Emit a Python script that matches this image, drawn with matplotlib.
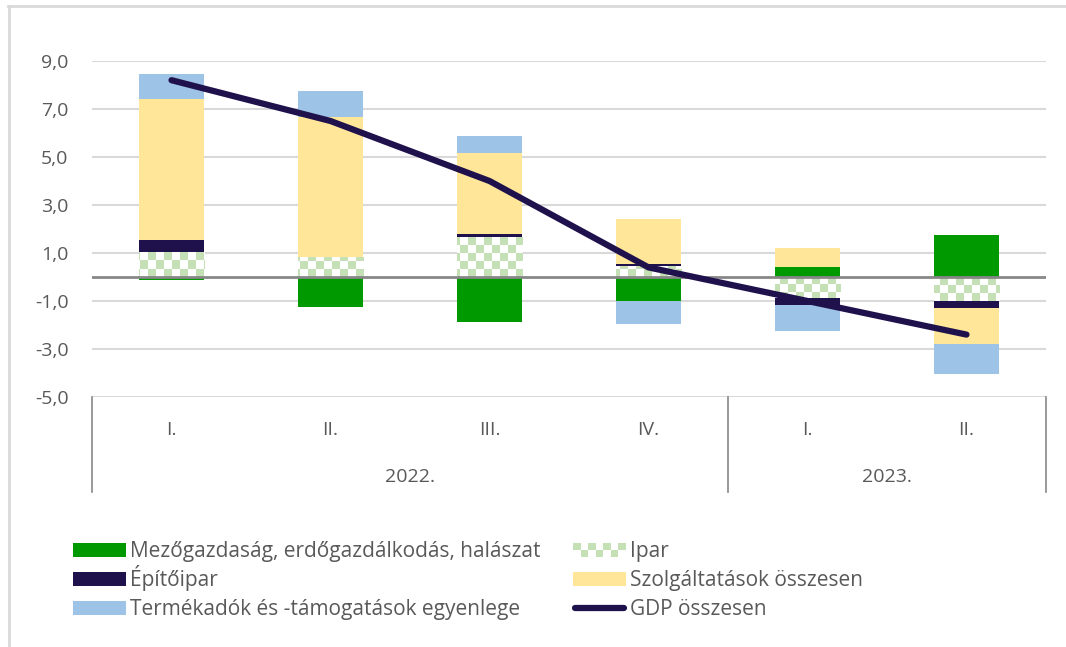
import numpy as np
import matplotlib
matplotlib.use("Agg")
import matplotlib.pyplot as plt
from matplotlib.patches import Rectangle
from matplotlib.lines import Line2D
from matplotlib.colors import ListedColormap
import matplotlib.transforms as mtransforms

# ---- data ----
quarters = ["I.", "II.", "III.", "IV.", "I.", "II."]
years = ["2022.", "2023."]
year_groups = [4, 2]
agri = [-0.12, -1.26, -1.86, -0.99, 0.43, 1.74]
ipar = [1.05, 0.85, 1.65, 0.45, -0.89, -0.99]
epito = [0.49, 0.0, 0.13, 0.09, -0.28, -0.29]
szolg = [5.86, 5.83, 3.40, 1.89, 0.79, -1.51]
termek = [1.06, 1.08, 0.70, -0.96, -1.08, -1.26]
gdp = [8.2, 6.5, 4.0, 0.4, -1.0, -2.4]
yticks = [-5, -3, -1, 1, 3, 5, 7, 9]

labels = ["Mezőgazdaság, erdőgazdálkodás, halászat", "Ipar", "Építőipar",
          "Szolgáltatások összesen", "Termékadók és -támogatások egyenlege",
          "GDP összesen"]

C_GREEN = "#009900"
C_IPAR = "#C5E0B4"
C_EPITO = "#1F124C"
C_SZOLG = "#FFE699"
C_TERM = "#9DC3E6"
C_GDP = "#1F124C"
TXT = "#595959"

plt.rcParams["font.family"] = ["Open Sans", "DejaVu Sans"]

W, H = 1066, 647
fig = plt.figure(figsize=(W / 100, H / 100), dpi=100)
ax = fig.add_axes([92 / W, 1 - 397 / H, (1046 - 92) / W, 336 / H])

x = np.arange(len(quarters))
w = 0.415

series = [(agri, C_GREEN), (ipar, C_IPAR), (epito, C_EPITO), (szolg, C_SZOLG), (termek, C_TERM)]
pos_base = np.zeros(len(x))
neg_base = np.zeros(len(x))
containers = []
for vals, col in series:
    vals = np.array(vals, dtype=float)
    base = np.where(vals >= 0, pos_base, neg_base)
    bc = ax.bar(x, vals, w, bottom=base, color=col, zorder=3, linewidth=0)
    containers.append(bc)
    pos_base = pos_base + np.where(vals >= 0, vals, 0)
    neg_base = neg_base + np.where(vals < 0, vals, 0)

ax.set_xlim(-0.5, len(x) - 0.5)
ax.set_ylim(-5, 9)

# checker pattern for Ipar bars
ax_w_px = (1046 - 92)
ax_h_px = 336
cell = 8
nx = ax_w_px // cell + 1
ny = ax_h_px // cell + 1
chk = (np.add.outer(np.arange(ny), np.arange(nx)) % 2).astype(float)
cmap = ListedColormap(["white", C_IPAR])
for p in containers[1].patches:
    im = ax.imshow(chk, cmap=cmap, extent=(0, nx * cell / ax_w_px, 1 - ny * cell / ax_h_px, 1),
                   transform=ax.transAxes, aspect="auto", interpolation="nearest",
                   zorder=3.5, origin="upper")
    im.set_clip_path(p)
ax.set_xlim(-0.5, len(x) - 0.5)
ax.set_ylim(-5, 9)

# GDP line
ax.plot(x, gdp, color=C_GDP, lw=4.5, solid_capstyle="round", zorder=5)

# grid and zero line
ax.set_yticks(yticks)
ax.set_yticklabels([f"{v:.1f}".replace(".", ",") for v in yticks], color=TXT, fontsize=14)
ax.yaxis.grid(True, color="#D9D9D9", lw=1.5, zorder=0)
ax.axhline(0, color="#878787", lw=2, zorder=4)
ax.tick_params(axis="y", length=0, pad=17)
for s in ax.spines.values():
    s.set_visible(False)

# category axis
ax.set_xticks([])
trans = mtransforms.blended_transform_factory(ax.transData, ax.transAxes)
for xi, q in zip(x, quarters):
    ax.text(xi, -33 / 336, q, transform=trans, ha="center", va="center", color=TXT, fontsize=14)
start = 0
seps = [-0.5]
for yr, n in zip(years, year_groups):
    mid = start + (n - 1) / 2
    ax.text(mid, -80 / 336, yr, transform=trans, ha="center", va="center", color=TXT, fontsize=14)
    start += n
    seps.append(start - 0.5)
for s in seps:
    ax.add_line(Line2D([s, s], [0, -95 / 336], transform=trans, color="#878787", lw=1.2, clip_on=False))

# ---- manual legend (row-wise, 2 columns) ----
kinds = [("patch", C_GREEN), ("checker", C_IPAR), ("patch", C_EPITO),
         ("patch", C_SZOLG), ("patch", C_TERM), ("line", C_GDP)]
col_x = [73, 573]        # handle left edge, px
row_y = [550, 579, 608]  # row centre, px
hw, hh = 53, 14
ft = fig.transFigure
for i, (lab, (kind, col)) in enumerate(zip(labels, kinds)):
    r, c = divmod(i, 2)
    x0 = col_x[c]
    yc = row_y[r]
    if kind == "patch":
        fig.add_artist(Rectangle((x0 / W, 1 - (yc + hh / 2) / H), hw / W, hh / H,
                                 transform=ft, facecolor=col, edgecolor="none"))
    elif kind == "checker":
        n = 7
        cw = hw / n
        for rr in range(2):
            for cc in range(n):
                fc = col if (rr + cc) % 2 == 0 else "white"
                fig.add_artist(Rectangle(((x0 + cc * cw) / W, 1 - (yc - hh / 2 + (rr + 1) * hh / 2) / H),
                                         cw / W, (hh / 2) / H, transform=ft,
                                         facecolor=fc, edgecolor="none"))
    else:
        fig.add_artist(Line2D([(x0 + 2) / W, (x0 + hw - 2) / W], [1 - yc / H, 1 - yc / H],
                              transform=ft, color=col, lw=4.5, solid_capstyle="round"))
    fig.text((x0 + hw + 4) / W, 1 - (yc + 7) / H, lab, ha="left", va="baseline",
             color=TXT, fontsize=15)

# outer border
fig.add_artist(Line2D([8 / W, 1], [1 - 6 / H, 1 - 6 / H], transform=ft, color="#D9D9D9", lw=2))
fig.add_artist(Line2D([9 / W, 9 / W], [0, 1 - 6 / H], transform=ft, color="#D9D9D9", lw=2))

fig.savefig("out.png", dpi=100, facecolor="white")
